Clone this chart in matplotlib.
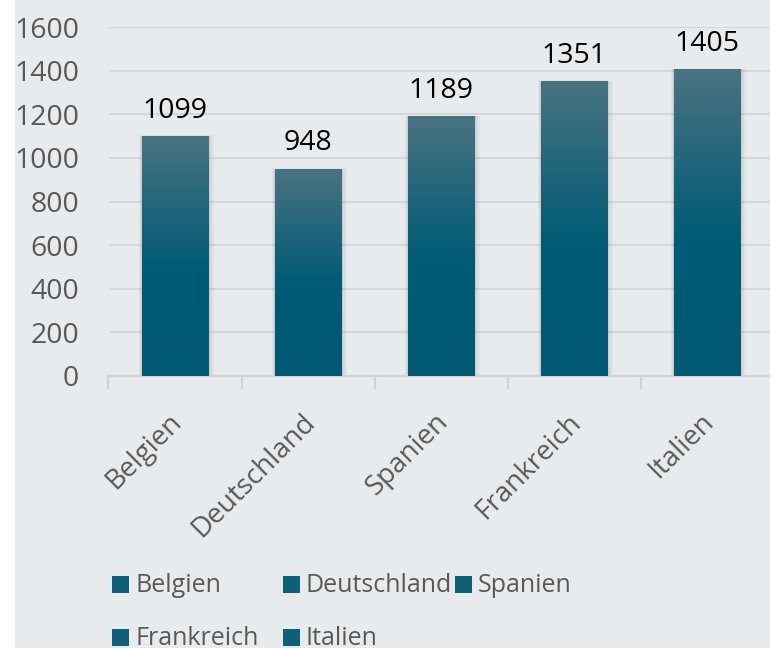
import numpy as np
import matplotlib
matplotlib.use("Agg")
import matplotlib.pyplot as plt
import matplotlib.transforms as mtransforms
from matplotlib.colors import LinearSegmentedColormap
from matplotlib.patches import Rectangle

# Data
countries = ['Belgien', 'Deutschland', 'Spanien', 'Frankreich', 'Italien']
values = [1099, 948, 1189, 1351, 1405]
yticks = [0, 200, 400, 600, 800, 1000, 1200, 1400, 1600]

plt.rcParams['font.family'] = ['Open Sans', 'DejaVu Sans']

W, H = 770, 648
fig = plt.figure(figsize=(W / 100, H / 100), dpi=100)
fig.patch.set_facecolor('white')
bg = '#e8ebee'
fig.patches.append(Rectangle((15 / W, 0), 1, 1, transform=fig.transFigure,
                             facecolor=bg, edgecolor='none', zorder=-10))

ax = fig.add_axes([108.5 / W, 1 - 376 / H, 665 / W, 349 / H])
ax.set_facecolor('none')

# gradient: grey-teal at top, dark teal from about the middle down
grad = LinearSegmentedColormap.from_list(
    'bar', [(0, '#005872'), (0.45, '#005b75'), (0.75, '#27687c'), (1.0, '#4a7381')])
gimg = np.linspace(0, 1, 256).reshape(-1, 1)

bw = 0.5
x = np.arange(len(countries))
for xi, v in zip(x, values):
    # soft shadow
    for k, a in zip([0.04, 0.028, 0.016], [0.05, 0.07, 0.10]):
        ax.add_patch(Rectangle((xi - bw / 2 - k * 0.5, -6), bw + k * 1.5, v + 6 + k * 100,
                               facecolor='#5a5a5a', edgecolor='none', alpha=a, zorder=2))
    ax.imshow(gimg, cmap=grad, extent=[xi - bw / 2, xi + bw / 2, 0, v],
              origin='lower', aspect='auto', zorder=3)
    ax.annotate(str(v), (xi, v), xytext=(0, 13.5), textcoords='offset points',
                ha='center', va='baseline', fontsize=20.5, color='black', zorder=4)

ax.set_xlim(-0.5, 4.5)
ax.set_ylim(0, 1600)

ax.set_yticks(yticks)
ax.set_yticklabels([str(t) for t in yticks], fontsize=20.5, color='#595959')
ax.tick_params(axis='y', length=0, pad=21)
ax.grid(axis='y', color='#d5d7d9', linewidth=1.5, zorder=0)
ax.set_axisbelow(True)

# category boundary ticks
ax.set_xticks(np.arange(-0.5, 5, 1))
ax.set_xticklabels([])
ax.tick_params(axis='x', length=9, width=1.5, color='#d0d2d4', direction='out')
for s in ['top', 'right', 'left']:
    ax.spines[s].set_visible(False)
ax.spines['bottom'].set_color('#d0d2d4')
ax.spines['bottom'].set_linewidth(1.5)

# rotated category labels
offset = mtransforms.ScaledTranslation(8 / 100, -47 / 100, fig.dpi_scale_trans)
for xi, name in zip(x, countries):
    ax.text(xi, 0, name, rotation=45, rotation_mode='anchor', ha='right', va='baseline',
            fontsize=20, color='#595959', transform=ax.transData + offset, clip_on=False)

# legend (row-major, three columns)
col_x = [112, 283, 455]
row_base = [592, 645]
sq = 17
for i, name in enumerate(countries):
    r, c = divmod(i, 3)
    px, py = col_x[c], row_base[r]
    fig.add_artist(Rectangle((px / W, 1 - (py + 1) / H), sq / W, sq / H,
                             transform=fig.transFigure, facecolor='#0f5f77', edgecolor='none'))
    fig.text((px + sq + 6) / W, 1 - py / H, name, ha='left', va='baseline',
             fontsize=18, color='#595959')

fig.savefig('out.png', dpi=100, facecolor=fig.get_facecolor())
